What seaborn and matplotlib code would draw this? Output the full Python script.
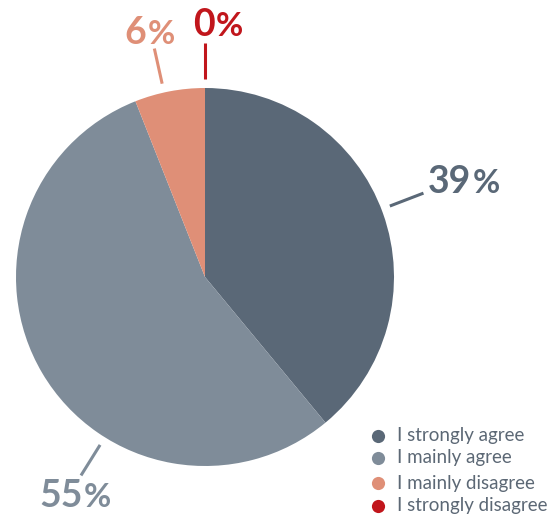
import numpy as np
import matplotlib
matplotlib.use("Agg")
import matplotlib.pyplot as plt
import seaborn as sns

# Survey answers
categories = ["I strongly agree", "I mainly agree", "I mainly disagree", "I strongly disagree"]
shares = [39, 55, 6, 0]
palette = sns.color_palette(["#5a6877", "#7f8c99", "#df8f77", "#c1161c"])

sns.set_theme(style="white")
plt.rcParams["font.family"] = ["Lato", "DejaVu Sans"]

W, H = 556, 517
fig = plt.figure(figsize=(W / 100, H / 100), dpi=100)
ax = fig.add_axes([0, 0, 1, 1])

cx, cy, R = 205, H - 277, 189
wedges, _ = ax.pie(shares, colors=palette, startangle=90, counterclock=False,
                   center=(cx, cy), radius=R,
                   wedgeprops=dict(linewidth=0))
ax.set_xlim(0, W)
ax.set_ylim(0, H)
ax.set_aspect("equal")
ax.axis("off")

# leader lines and value labels
total = sum(shares)
cum = np.cumsum([0] + shares[:-1])
label_angles = [90 - 360 * (c + s / 2) / total for c, s in zip(cum, shares)]
label_angles[0] = 21     # nudge the connectors the way they are laid out
label_angles[1] = -122
label_angles[2] = 102.5
# offset from line end to the number/percent split (pixels, y up)
text_offsets = [(48, 0), (2, -32), (-8, 5), (10, 7)]
r0, r1 = R + 9, R + 45
for ang, share, col, (ox, oy) in zip(label_angles, shares, palette, text_offsets):
    a = np.deg2rad(ang)
    x0, y0 = cx + r0 * np.cos(a), cy + r0 * np.sin(a)
    x1, y1 = cx + r1 * np.cos(a), cy + r1 * np.sin(a)
    ax.plot([x0, x1], [y0, y1], color=col, lw=2.2, solid_capstyle="butt")
    sx, sy = x1 + ox, y1 + oy
    ax.text(sx, sy, f"{share}", color=col, fontsize=27, fontweight="bold",
            ha="right", va="baseline")
    ax.text(sx + 1, sy, "%", color=col, fontsize=24, fontweight="bold",
            ha="left", va="baseline")

# legend
leg_x, leg_text_x = 378, 397
leg_rows = [436, 458, 483, 506]
for name, col, ry in zip(categories, palette, leg_rows):
    y = H - ry
    ax.scatter([leg_x], [y], s=90, color=col, linewidths=0, zorder=3)
    ax.text(leg_text_x, y, name, color="#5c6875", fontsize=13.5,
            ha="left", va="center")

fig.savefig("out.png", dpi=100)
